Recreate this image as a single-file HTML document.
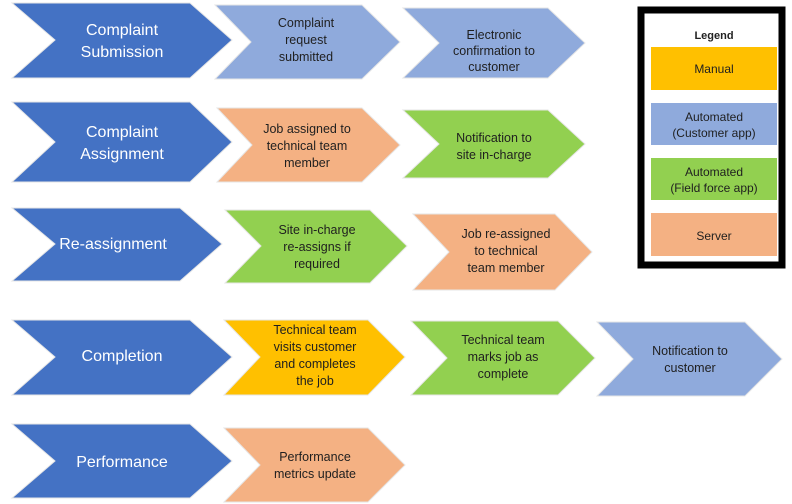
<!DOCTYPE html>
<html><head><meta charset="utf-8"><style>
html,body{margin:0;padding:0;background:#fff;width:792px;height:504px;overflow:hidden}
svg text{font-family:"Liberation Sans",sans-serif;text-anchor:middle}
.w{fill:#fff;font-size:16px}
.d{fill:#1f1f1f;font-size:12.5px}
</style></head><body>
<svg width="792" height="504" viewBox="0 0 792 504" xmlns="http://www.w3.org/2000/svg">
<g stroke="#e6e6e6" stroke-width="1">
<polygon fill="#4472C4" points="12,3 190,3 232,40 190,78 12,78 55,40"/>
<polygon fill="#8FAADC" points="215,5 362,5 400,42 362,79 215,79 251,42"/>
<polygon fill="#8FAADC" points="403,8 548,8 585,43 548,78 403,78 439,43"/>
<polygon fill="#4472C4" points="12,102 190,102 232,142 190,182 12,182 55,142"/>
<polygon fill="#F4B183" points="217,108 362,108 400,145 362,182 217,182 252,145"/>
<polygon fill="#92D050" points="403,110 548,110 585,144 548,178 403,178 439,144"/>
<polygon fill="#4472C4" points="12,208 180,208 222,244 180,281 12,281 55,244"/>
<polygon fill="#92D050" points="225,210 370,210 407,246 370,283 225,283 261,246"/>
<polygon fill="#F4B183" points="413,214 555,214 592,252 555,290 413,290 449,252"/>
<polygon fill="#4472C4" points="12,320 190,320 232,357 190,395 12,395 55,357"/>
<polygon fill="#FFC000" points="224,320 368,320 405,357 368,395 224,395 260,357"/>
<polygon fill="#92D050" points="411,321 558,321 595,358 558,395 411,395 447,358"/>
<polygon fill="#8FAADC" points="597,322 745,322 782,359 745,396 597,396 633,359"/>
<polygon fill="#4472C4" points="12,424 190,424 232,461 190,498 12,498 55,461"/>
<polygon fill="#F4B183" points="224,428 368,428 405,465 368,502 224,502 260,465"/>
</g>
<text class="w" x="122" y="35">Complaint</text><text class="w" x="122" y="57">Submission</text>
<text class="d" x="306" y="27">Complaint</text><text class="d" x="306" y="44">request</text><text class="d" x="306" y="61">submitted</text>
<text class="d" x="494" y="39">Electronic</text><text class="d" x="494" y="55">confirmation to</text><text class="d" x="494" y="71">customer</text>
<text class="w" x="122" y="137">Complaint</text><text class="w" x="122" y="159">Assignment</text>
<text class="d" x="307" y="133">Job assigned to</text><text class="d" x="307" y="150">technical team</text><text class="d" x="307" y="167">member</text>
<text class="d" x="494" y="142">Notification to</text><text class="d" x="494" y="159">site in-charge</text>
<text class="w" x="113" y="249">Re-assignment</text>
<text class="d" x="317" y="234">Site in-charge</text><text class="d" x="317" y="251">re-assigns if</text><text class="d" x="317" y="268">required</text>
<text class="d" x="506" y="238">Job re-assigned</text><text class="d" x="506" y="255">to technical</text><text class="d" x="506" y="272">team member</text>
<text class="w" x="122" y="361">Completion</text>
<text class="d" x="315" y="334">Technical team</text><text class="d" x="315" y="351">visits customer</text><text class="d" x="315" y="368">and completes</text><text class="d" x="315" y="385">the job</text>
<text class="d" x="503" y="344">Technical team</text><text class="d" x="503" y="361">marks job as</text><text class="d" x="503" y="378">complete</text>
<text class="d" x="690" y="355">Notification to</text><text class="d" x="690" y="372">customer</text>
<text class="w" x="122" y="467">Performance</text>
<text class="d" x="315" y="461">Performance</text><text class="d" x="315" y="478">metrics update</text>
<rect x="641" y="10" width="141" height="255" fill="#fff" stroke="#000" stroke-width="7"/>
<text x="714" y="39" style="font-size:11px;font-weight:bold;fill:#222">Legend</text>
<rect x="651" y="47" width="126" height="43" fill="#FFC000"/>
<text class="d" x="714" y="73" style="font-size:12px">Manual</text>
<rect x="651" y="103" width="126" height="42" fill="#8FAADC"/>
<text class="d" x="714" y="121" style="font-size:12px">Automated</text><text class="d" x="714" y="137" style="font-size:12px">(Customer app)</text>
<rect x="651" y="158" width="126" height="42" fill="#92D050"/>
<text class="d" x="714" y="176" style="font-size:12px">Automated</text><text class="d" x="714" y="192" style="font-size:12px">(Field force app)</text>
<rect x="651" y="213" width="126" height="43" fill="#F4B183"/>
<text class="d" x="714" y="240" style="font-size:12px">Server</text>
</svg>
</body></html>
